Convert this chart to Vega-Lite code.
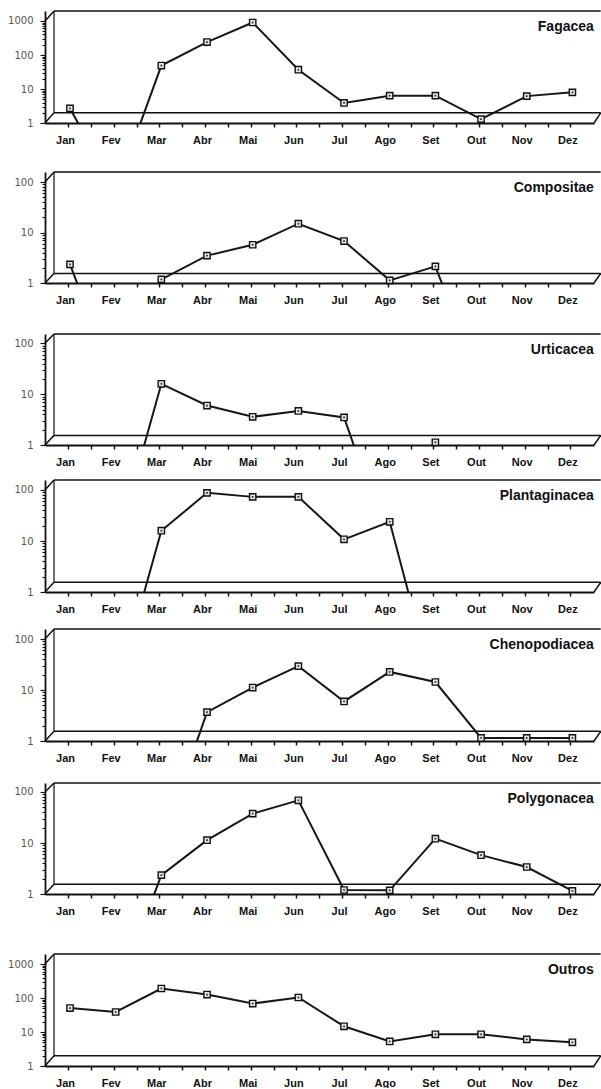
{
  "$schema": "https://vega.github.io/schema/vega-lite/v6.json",
  "padding": {"top": 10, "left": 0, "right": 0, "bottom": 0},
  "background": "white",
  "spacing": 0,
  "config": {
    "view": {"stroke": null},
    "axisX": {"title": null, "grid": false, "domainColor": "#111", "domainWidth": 1.8, "tickColor": "#111", "tickWidth": 1.5, "tickSize": 4, "tickOffset": -2, "labelOffset": -3, "labelPadding": 7, "labelFont": "Liberation Sans", "labelFontSize": 11, "labelFontWeight": "bold", "labelColor": "#111", "labelOverlap": false},
    "axisY": {"title": null, "grid": false, "domainColor": "#111", "domainWidth": 1.8, "tickColor": "#111", "tickWidth": 1.1, "labelPadding": 7, "labelFont": "DejaVu Sans", "labelFontSize": 10, "labelColor": "#555", "labelOverlap": false, "minExtent": 45, "maxExtent": 45},
    "text": {"font": "Liberation Sans", "fontSize": 14, "fontWeight": "bold", "color": "#111", "align": "right", "baseline": "middle"}
  },
  "datasets": {
    "pollen": [
      {"familia": "Fagacea", "mes": 1, "contagem": 2.7}, {"familia": "Fagacea", "mes": 2, "contagem": 0}, {"familia": "Fagacea", "mes": 3, "contagem": 49}, {"familia": "Fagacea", "mes": 4, "contagem": 240}, {"familia": "Fagacea", "mes": 5, "contagem": 900}, {"familia": "Fagacea", "mes": 6, "contagem": 37}, {"familia": "Fagacea", "mes": 7, "contagem": 3.9}, {"familia": "Fagacea", "mes": 8, "contagem": 6.4}, {"familia": "Fagacea", "mes": 9, "contagem": 6.4}, {"familia": "Fagacea", "mes": 10, "contagem": 1.3}, {"familia": "Fagacea", "mes": 11, "contagem": 6.2}, {"familia": "Fagacea", "mes": 12, "contagem": 8.0},
      {"familia": "Compositae", "mes": 1, "contagem": 2.35}, {"familia": "Compositae", "mes": 2, "contagem": 0}, {"familia": "Compositae", "mes": 3, "contagem": 1.18}, {"familia": "Compositae", "mes": 4, "contagem": 3.5}, {"familia": "Compositae", "mes": 5, "contagem": 5.75}, {"familia": "Compositae", "mes": 6, "contagem": 15}, {"familia": "Compositae", "mes": 7, "contagem": 6.8}, {"familia": "Compositae", "mes": 8, "contagem": 1.13}, {"familia": "Compositae", "mes": 9, "contagem": 2.14}, {"familia": "Compositae", "mes": 10, "contagem": 0}, {"familia": "Compositae", "mes": 11, "contagem": 0}, {"familia": "Compositae", "mes": 12, "contagem": 0},
      {"familia": "Urticacea", "mes": 1, "contagem": 0}, {"familia": "Urticacea", "mes": 2, "contagem": 0}, {"familia": "Urticacea", "mes": 3, "contagem": 16}, {"familia": "Urticacea", "mes": 4, "contagem": 6.0}, {"familia": "Urticacea", "mes": 5, "contagem": 3.6}, {"familia": "Urticacea", "mes": 6, "contagem": 4.7}, {"familia": "Urticacea", "mes": 7, "contagem": 3.5}, {"familia": "Urticacea", "mes": 8, "contagem": 0}, {"familia": "Urticacea", "mes": 9, "contagem": 1.13}, {"familia": "Urticacea", "mes": 10, "contagem": 0}, {"familia": "Urticacea", "mes": 11, "contagem": 0}, {"familia": "Urticacea", "mes": 12, "contagem": 0},
      {"familia": "Plantaginacea", "mes": 1, "contagem": 0}, {"familia": "Plantaginacea", "mes": 2, "contagem": 0}, {"familia": "Plantaginacea", "mes": 3, "contagem": 15.9}, {"familia": "Plantaginacea", "mes": 4, "contagem": 87.5}, {"familia": "Plantaginacea", "mes": 5, "contagem": 73}, {"familia": "Plantaginacea", "mes": 6, "contagem": 73}, {"familia": "Plantaginacea", "mes": 7, "contagem": 10.8}, {"familia": "Plantaginacea", "mes": 8, "contagem": 23.8}, {"familia": "Plantaginacea", "mes": 9, "contagem": 0}, {"familia": "Plantaginacea", "mes": 10, "contagem": 0}, {"familia": "Plantaginacea", "mes": 11, "contagem": 0}, {"familia": "Plantaginacea", "mes": 12, "contagem": 0},
      {"familia": "Chenopodiacea", "mes": 1, "contagem": 0}, {"familia": "Chenopodiacea", "mes": 2, "contagem": 0}, {"familia": "Chenopodiacea", "mes": 3, "contagem": 0}, {"familia": "Chenopodiacea", "mes": 4, "contagem": 3.7}, {"familia": "Chenopodiacea", "mes": 5, "contagem": 11.2}, {"familia": "Chenopodiacea", "mes": 6, "contagem": 29.5}, {"familia": "Chenopodiacea", "mes": 7, "contagem": 6.0}, {"familia": "Chenopodiacea", "mes": 8, "contagem": 22.7}, {"familia": "Chenopodiacea", "mes": 9, "contagem": 14.4}, {"familia": "Chenopodiacea", "mes": 10, "contagem": 1.15}, {"familia": "Chenopodiacea", "mes": 11, "contagem": 1.15}, {"familia": "Chenopodiacea", "mes": 12, "contagem": 1.15},
      {"familia": "Polygonacea", "mes": 1, "contagem": 0}, {"familia": "Polygonacea", "mes": 2, "contagem": 0}, {"familia": "Polygonacea", "mes": 3, "contagem": 2.35}, {"familia": "Polygonacea", "mes": 4, "contagem": 11.4}, {"familia": "Polygonacea", "mes": 5, "contagem": 37.8}, {"familia": "Polygonacea", "mes": 6, "contagem": 68.7}, {"familia": "Polygonacea", "mes": 7, "contagem": 1.2}, {"familia": "Polygonacea", "mes": 8, "contagem": 1.18}, {"familia": "Polygonacea", "mes": 9, "contagem": 12.2}, {"familia": "Polygonacea", "mes": 10, "contagem": 5.8}, {"familia": "Polygonacea", "mes": 11, "contagem": 3.4}, {"familia": "Polygonacea", "mes": 12, "contagem": 1.15},
      {"familia": "Outros", "mes": 1, "contagem": 51}, {"familia": "Outros", "mes": 2, "contagem": 39}, {"familia": "Outros", "mes": 3, "contagem": 191}, {"familia": "Outros", "mes": 4, "contagem": 127}, {"familia": "Outros", "mes": 5, "contagem": 69}, {"familia": "Outros", "mes": 6, "contagem": 104}, {"familia": "Outros", "mes": 7, "contagem": 14.8}, {"familia": "Outros", "mes": 8, "contagem": 5.3}, {"familia": "Outros", "mes": 9, "contagem": 8.6}, {"familia": "Outros", "mes": 10, "contagem": 8.6}, {"familia": "Outros", "mes": 11, "contagem": 6.1}, {"familia": "Outros", "mes": 12, "contagem": 5.0}
    ]
  },
  "vconcat": [
    {
      "width": 549, "height": 112,
      "layer": [
        {"data": {"name": "pollen"}, "transform": [{"filter": "datum.familia == 'Fagacea'"}],
         "mark": {"type": "line", "color": "#161616", "strokeWidth": 2, "clip": true},
         "encoding": {
           "x": {"field": "mes", "type": "quantitative", "scale": {"domain": [0.4526, 12.473], "nice": false, "zero": false},
                 "axis": {"values": [1,1.5,2,2.5,3,3.5,4,4.5,5,5.5,6,6.5,7,7.5,8,8.5,9,9.5,10,10.5,11,11.5,12], "tickCount": 100, "labelExpr": "datum.value % 1 == 0 ? ['Jan','Fev','Mar','Abr','Mai','Jun','Jul','Ago','Set','Out','Nov','Dez'][datum.value - 1] : ''", "labelOverlap": false, "minExtent": 48, "maxExtent": 48}},
           "y": {"field": "contagem", "type": "quantitative", "scale": {"type": "symlog", "constant": 0.01, "domain": [1, 1958], "nice": false, "zero": false},
                 "axis": {"values": [1,2,3,4,5,6,7,8,9,10,20,30,40,50,60,70,80,90,100,200,300,400,500,600,700,800,900,1000], "tickCount": 100, "labelExpr": "indexof([1,10,100,1000], datum.value) >= 0 ? format(datum.value, 'd') : ''", "tickSize": {"condition": {"test": "indexof([1,10,100,1000], datum.value) >= 0", "value": 5}, "value": 3}, "labelOverlap": false}}
         }},
        {"data": {"values": [{}]}, "mark": {"type": "rule", "color": "#111", "strokeWidth": 1.5}, "encoding": {"x": {"datum": 0.65, "type": "quantitative"}, "x2": {"datum": 12.62}, "y": {"datum": 1958, "type": "quantitative"}}},
        {"data": {"values": [{}]}, "mark": {"type": "rule", "color": "#111", "strokeWidth": 1.5}, "encoding": {"x": {"datum": 0.65, "type": "quantitative"}, "x2": {"datum": 12.62}, "y": {"datum": 2.0, "type": "quantitative"}}},
        {"data": {"values": [{}]}, "mark": {"type": "rule", "color": "#111", "strokeWidth": 1.2}, "encoding": {"x": {"datum": 0.65, "type": "quantitative"}, "y": {"datum": 2.0, "type": "quantitative"}, "y2": {"datum": 1958}}},
        {"data": {"values": [{}]}, "mark": {"type": "rule", "color": "#111", "strokeWidth": 1.5}, "encoding": {"x": {"datum": 0.4526, "type": "quantitative"}, "x2": {"datum": 0.65}, "y": {"datum": 1, "type": "quantitative"}, "y2": {"datum": 2.0}}},
        {"data": {"values": [{}]}, "mark": {"type": "rule", "color": "#111", "strokeWidth": 1.5}, "encoding": {"x": {"datum": 0.4526, "type": "quantitative"}, "x2": {"datum": 0.65}, "y": {"datum": 1000, "type": "quantitative"}, "y2": {"datum": 1958}}},
        {"data": {"values": [{}]}, "mark": {"type": "rule", "color": "#111", "strokeWidth": 1.5}, "encoding": {"x": {"datum": 12.473, "type": "quantitative"}, "x2": {"datum": 12.62}, "y": {"datum": 1, "type": "quantitative"}, "y2": {"datum": 2.0}}},
        {"data": {"values": [{}]}, "mark": {"type": "text", "text": "Fagacea"}, "encoding": {"x": {"datum": 12.47, "type": "quantitative"}, "y": {"datum": 663, "type": "quantitative"}}},
        {"data": {"name": "pollen"}, "transform": [{"filter": "datum.familia == 'Fagacea' && datum.contagem > 0"}],
         "mark": {"type": "point", "shape": "square", "size": 40, "filled": true, "fill": "#e4e4e4", "stroke": "#111", "strokeWidth": 1.4, "opacity": 1},
         "encoding": {"x": {"field": "mes", "type": "quantitative"}, "y": {"field": "contagem", "type": "quantitative"}}},
        {"data": {"name": "pollen"}, "transform": [{"filter": "datum.familia == 'Fagacea' && datum.contagem > 0"}],
         "mark": {"type": "point", "shape": "square", "size": 3, "filled": true, "color": "#333", "opacity": 1},
         "encoding": {"x": {"field": "mes", "type": "quantitative"}, "y": {"field": "contagem", "type": "quantitative"}}}
      ]
    },
    {
      "width": 549, "height": 111,
      "layer": [
        {"data": {"name": "pollen"}, "transform": [{"filter": "datum.familia == 'Compositae'"}],
         "mark": {"type": "line", "color": "#161616", "strokeWidth": 2, "clip": true},
         "encoding": {
           "x": {"field": "mes", "type": "quantitative", "scale": {"domain": [0.4526, 12.473], "nice": false, "zero": false},
                 "axis": {"values": [1,1.5,2,2.5,3,3.5,4,4.5,5,5.5,6,6.5,7,7.5,8,8.5,9,9.5,10,10.5,11,11.5,12], "tickCount": 100, "labelExpr": "datum.value % 1 == 0 ? ['Jan','Fev','Mar','Abr','Mai','Jun','Jul','Ago','Set','Out','Nov','Dez'][datum.value - 1] : ''", "labelOverlap": false, "minExtent": 50, "maxExtent": 50}},
           "y": {"field": "contagem", "type": "quantitative", "scale": {"type": "symlog", "constant": 0.01, "domain": [1, 158], "nice": false, "zero": false},
                 "axis": {"values": [1,2,3,4,5,6,7,8,9,10,20,30,40,50,60,70,80,90,100], "tickCount": 100, "labelExpr": "indexof([1,10,100,1000], datum.value) >= 0 ? format(datum.value, 'd') : ''", "tickSize": {"condition": {"test": "indexof([1,10,100,1000], datum.value) >= 0", "value": 5}, "value": 3}, "labelOverlap": false}}
         }},
        {"data": {"values": [{}]}, "mark": {"type": "rule", "color": "#111", "strokeWidth": 1.5}, "encoding": {"x": {"datum": 0.65, "type": "quantitative"}, "x2": {"datum": 12.62}, "y": {"datum": 158, "type": "quantitative"}}},
        {"data": {"values": [{}]}, "mark": {"type": "rule", "color": "#111", "strokeWidth": 1.5}, "encoding": {"x": {"datum": 0.65, "type": "quantitative"}, "x2": {"datum": 12.62}, "y": {"datum": 1.55, "type": "quantitative"}}},
        {"data": {"values": [{}]}, "mark": {"type": "rule", "color": "#111", "strokeWidth": 1.2}, "encoding": {"x": {"datum": 0.65, "type": "quantitative"}, "y": {"datum": 1.55, "type": "quantitative"}, "y2": {"datum": 158}}},
        {"data": {"values": [{}]}, "mark": {"type": "rule", "color": "#111", "strokeWidth": 1.5}, "encoding": {"x": {"datum": 0.4526, "type": "quantitative"}, "x2": {"datum": 0.65}, "y": {"datum": 1, "type": "quantitative"}, "y2": {"datum": 1.55}}},
        {"data": {"values": [{}]}, "mark": {"type": "rule", "color": "#111", "strokeWidth": 1.5}, "encoding": {"x": {"datum": 0.4526, "type": "quantitative"}, "x2": {"datum": 0.65}, "y": {"datum": 100, "type": "quantitative"}, "y2": {"datum": 158}}},
        {"data": {"values": [{}]}, "mark": {"type": "rule", "color": "#111", "strokeWidth": 1.5}, "encoding": {"x": {"datum": 12.473, "type": "quantitative"}, "x2": {"datum": 12.62}, "y": {"datum": 1, "type": "quantitative"}, "y2": {"datum": 1.55}}},
        {"data": {"values": [{}]}, "mark": {"type": "text", "text": "Compositae"}, "encoding": {"x": {"datum": 12.47, "type": "quantitative"}, "y": {"datum": 76, "type": "quantitative"}}},
        {"data": {"name": "pollen"}, "transform": [{"filter": "datum.familia == 'Compositae' && datum.contagem > 0"}],
         "mark": {"type": "point", "shape": "square", "size": 40, "filled": true, "fill": "#e4e4e4", "stroke": "#111", "strokeWidth": 1.4, "opacity": 1},
         "encoding": {"x": {"field": "mes", "type": "quantitative"}, "y": {"field": "contagem", "type": "quantitative"}}},
        {"data": {"name": "pollen"}, "transform": [{"filter": "datum.familia == 'Compositae' && datum.contagem > 0"}],
         "mark": {"type": "point", "shape": "square", "size": 3, "filled": true, "color": "#333", "opacity": 1},
         "encoding": {"x": {"field": "mes", "type": "quantitative"}, "y": {"field": "contagem", "type": "quantitative"}}}
      ]
    },
    {
      "width": 549, "height": 111,
      "layer": [
        {"data": {"name": "pollen"}, "transform": [{"filter": "datum.familia == 'Urticacea'"}],
         "mark": {"type": "line", "color": "#161616", "strokeWidth": 2, "clip": true},
         "encoding": {
           "x": {"field": "mes", "type": "quantitative", "scale": {"domain": [0.4526, 12.473], "nice": false, "zero": false},
                 "axis": {"values": [1,1.5,2,2.5,3,3.5,4,4.5,5,5.5,6,6.5,7,7.5,8,8.5,9,9.5,10,10.5,11,11.5,12], "tickCount": 100, "labelExpr": "datum.value % 1 == 0 ? ['Jan','Fev','Mar','Abr','Mai','Jun','Jul','Ago','Set','Out','Nov','Dez'][datum.value - 1] : ''", "labelOverlap": false, "minExtent": 34, "maxExtent": 34}},
           "y": {"field": "contagem", "type": "quantitative", "scale": {"type": "symlog", "constant": 0.01, "domain": [1, 152], "nice": false, "zero": false},
                 "axis": {"values": [1,2,3,4,5,6,7,8,9,10,20,30,40,50,60,70,80,90,100], "tickCount": 100, "labelExpr": "indexof([1,10,100,1000], datum.value) >= 0 ? format(datum.value, 'd') : ''", "tickSize": {"condition": {"test": "indexof([1,10,100,1000], datum.value) >= 0", "value": 5}, "value": 3}, "labelOverlap": false}}
         }},
        {"data": {"values": [{}]}, "mark": {"type": "rule", "color": "#111", "strokeWidth": 1.5}, "encoding": {"x": {"datum": 0.65, "type": "quantitative"}, "x2": {"datum": 12.62}, "y": {"datum": 152, "type": "quantitative"}}},
        {"data": {"values": [{}]}, "mark": {"type": "rule", "color": "#111", "strokeWidth": 1.5}, "encoding": {"x": {"datum": 0.65, "type": "quantitative"}, "x2": {"datum": 12.62}, "y": {"datum": 1.55, "type": "quantitative"}}},
        {"data": {"values": [{}]}, "mark": {"type": "rule", "color": "#111", "strokeWidth": 1.2}, "encoding": {"x": {"datum": 0.65, "type": "quantitative"}, "y": {"datum": 1.55, "type": "quantitative"}, "y2": {"datum": 152}}},
        {"data": {"values": [{}]}, "mark": {"type": "rule", "color": "#111", "strokeWidth": 1.5}, "encoding": {"x": {"datum": 0.4526, "type": "quantitative"}, "x2": {"datum": 0.65}, "y": {"datum": 1, "type": "quantitative"}, "y2": {"datum": 1.55}}},
        {"data": {"values": [{}]}, "mark": {"type": "rule", "color": "#111", "strokeWidth": 1.5}, "encoding": {"x": {"datum": 0.4526, "type": "quantitative"}, "x2": {"datum": 0.65}, "y": {"datum": 100, "type": "quantitative"}, "y2": {"datum": 152}}},
        {"data": {"values": [{}]}, "mark": {"type": "rule", "color": "#111", "strokeWidth": 1.5}, "encoding": {"x": {"datum": 12.473, "type": "quantitative"}, "x2": {"datum": 12.62}, "y": {"datum": 1, "type": "quantitative"}, "y2": {"datum": 1.55}}},
        {"data": {"values": [{}]}, "mark": {"type": "text", "text": "Urticacea"}, "encoding": {"x": {"datum": 12.47, "type": "quantitative"}, "y": {"datum": 73.6, "type": "quantitative"}}},
        {"data": {"name": "pollen"}, "transform": [{"filter": "datum.familia == 'Urticacea' && datum.contagem > 0"}],
         "mark": {"type": "point", "shape": "square", "size": 40, "filled": true, "fill": "#e4e4e4", "stroke": "#111", "strokeWidth": 1.4, "opacity": 1},
         "encoding": {"x": {"field": "mes", "type": "quantitative"}, "y": {"field": "contagem", "type": "quantitative"}}},
        {"data": {"name": "pollen"}, "transform": [{"filter": "datum.familia == 'Urticacea' && datum.contagem > 0"}],
         "mark": {"type": "point", "shape": "square", "size": 3, "filled": true, "color": "#333", "opacity": 1},
         "encoding": {"x": {"field": "mes", "type": "quantitative"}, "y": {"field": "contagem", "type": "quantitative"}}}
      ]
    },
    {
      "width": 549, "height": 112,
      "layer": [
        {"data": {"name": "pollen"}, "transform": [{"filter": "datum.familia == 'Plantaginacea'"}],
         "mark": {"type": "line", "color": "#161616", "strokeWidth": 2, "clip": true},
         "encoding": {
           "x": {"field": "mes", "type": "quantitative", "scale": {"domain": [0.4526, 12.473], "nice": false, "zero": false},
                 "axis": {"values": [1,1.5,2,2.5,3,3.5,4,4.5,5,5.5,6,6.5,7,7.5,8,8.5,9,9.5,10,10.5,11,11.5,12], "tickCount": 100, "labelExpr": "datum.value % 1 == 0 ? ['Jan','Fev','Mar','Abr','Mai','Jun','Jul','Ago','Set','Out','Nov','Dez'][datum.value - 1] : ''", "labelOverlap": false, "minExtent": 36, "maxExtent": 36}},
           "y": {"field": "contagem", "type": "quantitative", "scale": {"type": "symlog", "constant": 0.01, "domain": [1, 156], "nice": false, "zero": false},
                 "axis": {"values": [1,2,3,4,5,6,7,8,9,10,20,30,40,50,60,70,80,90,100], "tickCount": 100, "labelExpr": "indexof([1,10,100,1000], datum.value) >= 0 ? format(datum.value, 'd') : ''", "tickSize": {"condition": {"test": "indexof([1,10,100,1000], datum.value) >= 0", "value": 5}, "value": 3}, "labelOverlap": false}}
         }},
        {"data": {"values": [{}]}, "mark": {"type": "rule", "color": "#111", "strokeWidth": 1.5}, "encoding": {"x": {"datum": 0.65, "type": "quantitative"}, "x2": {"datum": 12.62}, "y": {"datum": 156, "type": "quantitative"}}},
        {"data": {"values": [{}]}, "mark": {"type": "rule", "color": "#111", "strokeWidth": 1.5}, "encoding": {"x": {"datum": 0.65, "type": "quantitative"}, "x2": {"datum": 12.62}, "y": {"datum": 1.55, "type": "quantitative"}}},
        {"data": {"values": [{}]}, "mark": {"type": "rule", "color": "#111", "strokeWidth": 1.2}, "encoding": {"x": {"datum": 0.65, "type": "quantitative"}, "y": {"datum": 1.55, "type": "quantitative"}, "y2": {"datum": 156}}},
        {"data": {"values": [{}]}, "mark": {"type": "rule", "color": "#111", "strokeWidth": 1.5}, "encoding": {"x": {"datum": 0.4526, "type": "quantitative"}, "x2": {"datum": 0.65}, "y": {"datum": 1, "type": "quantitative"}, "y2": {"datum": 1.55}}},
        {"data": {"values": [{}]}, "mark": {"type": "rule", "color": "#111", "strokeWidth": 1.5}, "encoding": {"x": {"datum": 0.4526, "type": "quantitative"}, "x2": {"datum": 0.65}, "y": {"datum": 100, "type": "quantitative"}, "y2": {"datum": 156}}},
        {"data": {"values": [{}]}, "mark": {"type": "rule", "color": "#111", "strokeWidth": 1.5}, "encoding": {"x": {"datum": 12.473, "type": "quantitative"}, "x2": {"datum": 12.62}, "y": {"datum": 1, "type": "quantitative"}, "y2": {"datum": 1.55}}},
        {"data": {"values": [{}]}, "mark": {"type": "text", "text": "Plantaginacea"}, "encoding": {"x": {"datum": 12.47, "type": "quantitative"}, "y": {"datum": 75.5, "type": "quantitative"}}},
        {"data": {"name": "pollen"}, "transform": [{"filter": "datum.familia == 'Plantaginacea' && datum.contagem > 0"}],
         "mark": {"type": "point", "shape": "square", "size": 40, "filled": true, "fill": "#e4e4e4", "stroke": "#111", "strokeWidth": 1.4, "opacity": 1},
         "encoding": {"x": {"field": "mes", "type": "quantitative"}, "y": {"field": "contagem", "type": "quantitative"}}},
        {"data": {"name": "pollen"}, "transform": [{"filter": "datum.familia == 'Plantaginacea' && datum.contagem > 0"}],
         "mark": {"type": "point", "shape": "square", "size": 3, "filled": true, "color": "#333", "opacity": 1},
         "encoding": {"x": {"field": "mes", "type": "quantitative"}, "y": {"field": "contagem", "type": "quantitative"}}}
      ]
    },
    {
      "width": 549, "height": 112,
      "layer": [
        {"data": {"name": "pollen"}, "transform": [{"filter": "datum.familia == 'Chenopodiacea'"}],
         "mark": {"type": "line", "color": "#161616", "strokeWidth": 2, "clip": true},
         "encoding": {
           "x": {"field": "mes", "type": "quantitative", "scale": {"domain": [0.4526, 12.473], "nice": false, "zero": false},
                 "axis": {"values": [1,1.5,2,2.5,3,3.5,4,4.5,5,5.5,6,6.5,7,7.5,8,8.5,9,9.5,10,10.5,11,11.5,12], "tickCount": 100, "labelExpr": "datum.value % 1 == 0 ? ['Jan','Fev','Mar','Abr','Mai','Jun','Jul','Ago','Set','Out','Nov','Dez'][datum.value - 1] : ''", "labelOverlap": false, "minExtent": 41, "maxExtent": 41}},
           "y": {"field": "contagem", "type": "quantitative", "scale": {"type": "symlog", "constant": 0.01, "domain": [1, 157], "nice": false, "zero": false},
                 "axis": {"values": [1,2,3,4,5,6,7,8,9,10,20,30,40,50,60,70,80,90,100], "tickCount": 100, "labelExpr": "indexof([1,10,100,1000], datum.value) >= 0 ? format(datum.value, 'd') : ''", "tickSize": {"condition": {"test": "indexof([1,10,100,1000], datum.value) >= 0", "value": 5}, "value": 3}, "labelOverlap": false}}
         }},
        {"data": {"values": [{}]}, "mark": {"type": "rule", "color": "#111", "strokeWidth": 1.5}, "encoding": {"x": {"datum": 0.65, "type": "quantitative"}, "x2": {"datum": 12.62}, "y": {"datum": 157, "type": "quantitative"}}},
        {"data": {"values": [{}]}, "mark": {"type": "rule", "color": "#111", "strokeWidth": 1.5}, "encoding": {"x": {"datum": 0.65, "type": "quantitative"}, "x2": {"datum": 12.62}, "y": {"datum": 1.55, "type": "quantitative"}}},
        {"data": {"values": [{}]}, "mark": {"type": "rule", "color": "#111", "strokeWidth": 1.2}, "encoding": {"x": {"datum": 0.65, "type": "quantitative"}, "y": {"datum": 1.55, "type": "quantitative"}, "y2": {"datum": 157}}},
        {"data": {"values": [{}]}, "mark": {"type": "rule", "color": "#111", "strokeWidth": 1.5}, "encoding": {"x": {"datum": 0.4526, "type": "quantitative"}, "x2": {"datum": 0.65}, "y": {"datum": 1, "type": "quantitative"}, "y2": {"datum": 1.55}}},
        {"data": {"values": [{}]}, "mark": {"type": "rule", "color": "#111", "strokeWidth": 1.5}, "encoding": {"x": {"datum": 0.4526, "type": "quantitative"}, "x2": {"datum": 0.65}, "y": {"datum": 100, "type": "quantitative"}, "y2": {"datum": 157}}},
        {"data": {"values": [{}]}, "mark": {"type": "rule", "color": "#111", "strokeWidth": 1.5}, "encoding": {"x": {"datum": 12.473, "type": "quantitative"}, "x2": {"datum": 12.62}, "y": {"datum": 1, "type": "quantitative"}, "y2": {"datum": 1.55}}},
        {"data": {"values": [{}]}, "mark": {"type": "text", "text": "Chenopodiacea"}, "encoding": {"x": {"datum": 12.47, "type": "quantitative"}, "y": {"datum": 76, "type": "quantitative"}}},
        {"data": {"name": "pollen"}, "transform": [{"filter": "datum.familia == 'Chenopodiacea' && datum.contagem > 0"}],
         "mark": {"type": "point", "shape": "square", "size": 40, "filled": true, "fill": "#e4e4e4", "stroke": "#111", "strokeWidth": 1.4, "opacity": 1},
         "encoding": {"x": {"field": "mes", "type": "quantitative"}, "y": {"field": "contagem", "type": "quantitative"}}},
        {"data": {"name": "pollen"}, "transform": [{"filter": "datum.familia == 'Chenopodiacea' && datum.contagem > 0"}],
         "mark": {"type": "point", "shape": "square", "size": 3, "filled": true, "color": "#333", "opacity": 1},
         "encoding": {"x": {"field": "mes", "type": "quantitative"}, "y": {"field": "contagem", "type": "quantitative"}}}
      ]
    },
    {
      "width": 549, "height": 111,
      "layer": [
        {"data": {"name": "pollen"}, "transform": [{"filter": "datum.familia == 'Polygonacea'"}],
         "mark": {"type": "line", "color": "#161616", "strokeWidth": 2, "clip": true},
         "encoding": {
           "x": {"field": "mes", "type": "quantitative", "scale": {"domain": [0.4526, 12.473], "nice": false, "zero": false},
                 "axis": {"values": [1,1.5,2,2.5,3,3.5,4,4.5,5,5.5,6,6.5,7,7.5,8,8.5,9,9.5,10,10.5,11,11.5,12], "tickCount": 100, "labelExpr": "datum.value % 1 == 0 ? ['Jan','Fev','Mar','Abr','Mai','Jun','Jul','Ago','Set','Out','Nov','Dez'][datum.value - 1] : ''", "labelOverlap": false, "minExtent": 59, "maxExtent": 59}},
           "y": {"field": "contagem", "type": "quantitative", "scale": {"type": "symlog", "constant": 0.01, "domain": [1, 150], "nice": false, "zero": false},
                 "axis": {"values": [1,2,3,4,5,6,7,8,9,10,20,30,40,50,60,70,80,90,100], "tickCount": 100, "labelExpr": "indexof([1,10,100,1000], datum.value) >= 0 ? format(datum.value, 'd') : ''", "tickSize": {"condition": {"test": "indexof([1,10,100,1000], datum.value) >= 0", "value": 5}, "value": 3}, "labelOverlap": false}}
         }},
        {"data": {"values": [{}]}, "mark": {"type": "rule", "color": "#111", "strokeWidth": 1.5}, "encoding": {"x": {"datum": 0.65, "type": "quantitative"}, "x2": {"datum": 12.62}, "y": {"datum": 150, "type": "quantitative"}}},
        {"data": {"values": [{}]}, "mark": {"type": "rule", "color": "#111", "strokeWidth": 1.5}, "encoding": {"x": {"datum": 0.65, "type": "quantitative"}, "x2": {"datum": 12.62}, "y": {"datum": 1.55, "type": "quantitative"}}},
        {"data": {"values": [{}]}, "mark": {"type": "rule", "color": "#111", "strokeWidth": 1.2}, "encoding": {"x": {"datum": 0.65, "type": "quantitative"}, "y": {"datum": 1.55, "type": "quantitative"}, "y2": {"datum": 150}}},
        {"data": {"values": [{}]}, "mark": {"type": "rule", "color": "#111", "strokeWidth": 1.5}, "encoding": {"x": {"datum": 0.4526, "type": "quantitative"}, "x2": {"datum": 0.65}, "y": {"datum": 1, "type": "quantitative"}, "y2": {"datum": 1.55}}},
        {"data": {"values": [{}]}, "mark": {"type": "rule", "color": "#111", "strokeWidth": 1.5}, "encoding": {"x": {"datum": 0.4526, "type": "quantitative"}, "x2": {"datum": 0.65}, "y": {"datum": 100, "type": "quantitative"}, "y2": {"datum": 150}}},
        {"data": {"values": [{}]}, "mark": {"type": "rule", "color": "#111", "strokeWidth": 1.5}, "encoding": {"x": {"datum": 12.473, "type": "quantitative"}, "x2": {"datum": 12.62}, "y": {"datum": 1, "type": "quantitative"}, "y2": {"datum": 1.55}}},
        {"data": {"values": [{}]}, "mark": {"type": "text", "text": "Polygonacea"}, "encoding": {"x": {"datum": 12.47, "type": "quantitative"}, "y": {"datum": 73, "type": "quantitative"}}},
        {"data": {"name": "pollen"}, "transform": [{"filter": "datum.familia == 'Polygonacea' && datum.contagem > 0"}],
         "mark": {"type": "point", "shape": "square", "size": 40, "filled": true, "fill": "#e4e4e4", "stroke": "#111", "strokeWidth": 1.4, "opacity": 1},
         "encoding": {"x": {"field": "mes", "type": "quantitative"}, "y": {"field": "contagem", "type": "quantitative"}}},
        {"data": {"name": "pollen"}, "transform": [{"filter": "datum.familia == 'Polygonacea' && datum.contagem > 0"}],
         "mark": {"type": "point", "shape": "square", "size": 3, "filled": true, "color": "#333", "opacity": 1},
         "encoding": {"x": {"field": "mes", "type": "quantitative"}, "y": {"field": "contagem", "type": "quantitative"}}}
      ]
    },
    {
      "width": 549, "height": 112,
      "layer": [
        {"data": {"name": "pollen"}, "transform": [{"filter": "datum.familia == 'Outros'"}],
         "mark": {"type": "line", "color": "#161616", "strokeWidth": 2, "clip": true},
         "encoding": {
           "x": {"field": "mes", "type": "quantitative", "scale": {"domain": [0.4526, 12.473], "nice": false, "zero": false},
                 "axis": {"values": [1,1.5,2,2.5,3,3.5,4,4.5,5,5.5,6,6.5,7,7.5,8,8.5,9,9.5,10,10.5,11,11.5,12], "tickCount": 100, "labelExpr": "datum.value % 1 == 0 ? ['Jan','Fev','Mar','Abr','Mai','Jun','Jul','Ago','Set','Out','Nov','Dez'][datum.value - 1] : ''", "labelOverlap": false, "minExtent": 22, "maxExtent": 22}},
           "y": {"field": "contagem", "type": "quantitative", "scale": {"type": "symlog", "constant": 0.01, "domain": [1, 1972], "nice": false, "zero": false},
                 "axis": {"values": [1,2,3,4,5,6,7,8,9,10,20,30,40,50,60,70,80,90,100,200,300,400,500,600,700,800,900,1000], "tickCount": 100, "labelExpr": "indexof([1,10,100,1000], datum.value) >= 0 ? format(datum.value, 'd') : ''", "tickSize": {"condition": {"test": "indexof([1,10,100,1000], datum.value) >= 0", "value": 5}, "value": 3}, "labelOverlap": false}}
         }},
        {"data": {"values": [{}]}, "mark": {"type": "rule", "color": "#111", "strokeWidth": 1.5}, "encoding": {"x": {"datum": 0.65, "type": "quantitative"}, "x2": {"datum": 12.62}, "y": {"datum": 1972, "type": "quantitative"}}},
        {"data": {"values": [{}]}, "mark": {"type": "rule", "color": "#111", "strokeWidth": 1.5}, "encoding": {"x": {"datum": 0.65, "type": "quantitative"}, "x2": {"datum": 12.62}, "y": {"datum": 2.0, "type": "quantitative"}}},
        {"data": {"values": [{}]}, "mark": {"type": "rule", "color": "#111", "strokeWidth": 1.2}, "encoding": {"x": {"datum": 0.65, "type": "quantitative"}, "y": {"datum": 2.0, "type": "quantitative"}, "y2": {"datum": 1972}}},
        {"data": {"values": [{}]}, "mark": {"type": "rule", "color": "#111", "strokeWidth": 1.5}, "encoding": {"x": {"datum": 0.4526, "type": "quantitative"}, "x2": {"datum": 0.65}, "y": {"datum": 1, "type": "quantitative"}, "y2": {"datum": 2.0}}},
        {"data": {"values": [{}]}, "mark": {"type": "rule", "color": "#111", "strokeWidth": 1.5}, "encoding": {"x": {"datum": 0.4526, "type": "quantitative"}, "x2": {"datum": 0.65}, "y": {"datum": 1000, "type": "quantitative"}, "y2": {"datum": 1972}}},
        {"data": {"values": [{}]}, "mark": {"type": "rule", "color": "#111", "strokeWidth": 1.5}, "encoding": {"x": {"datum": 12.473, "type": "quantitative"}, "x2": {"datum": 12.62}, "y": {"datum": 1, "type": "quantitative"}, "y2": {"datum": 2.0}}},
        {"data": {"values": [{}]}, "mark": {"type": "text", "text": "Outros"}, "encoding": {"x": {"datum": 12.47, "type": "quantitative"}, "y": {"datum": 666, "type": "quantitative"}}},
        {"data": {"name": "pollen"}, "transform": [{"filter": "datum.familia == 'Outros' && datum.contagem > 0"}],
         "mark": {"type": "point", "shape": "square", "size": 40, "filled": true, "fill": "#e4e4e4", "stroke": "#111", "strokeWidth": 1.4, "opacity": 1},
         "encoding": {"x": {"field": "mes", "type": "quantitative"}, "y": {"field": "contagem", "type": "quantitative"}}},
        {"data": {"name": "pollen"}, "transform": [{"filter": "datum.familia == 'Outros' && datum.contagem > 0"}],
         "mark": {"type": "point", "shape": "square", "size": 3, "filled": true, "color": "#333", "opacity": 1},
         "encoding": {"x": {"field": "mes", "type": "quantitative"}, "y": {"field": "contagem", "type": "quantitative"}}}
      ]
    }
  ]
}
